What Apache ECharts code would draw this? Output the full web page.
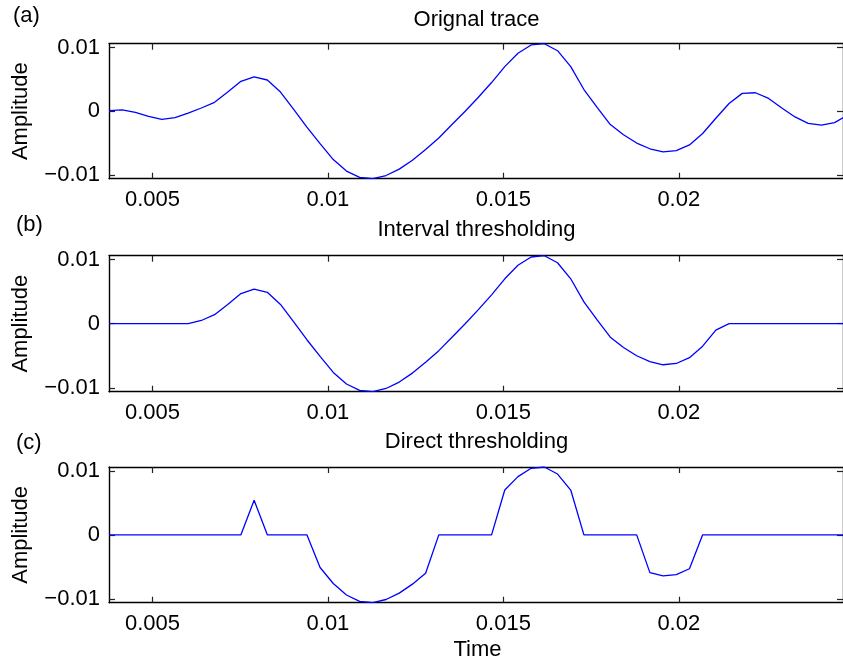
<!DOCTYPE html>
<html><head><meta charset="utf-8">
<script src="https://cdn.jsdelivr.net/npm/echarts@6/dist/echarts.min.js"></script>
<style>html,body{margin:0;padding:0;background:#fff}#c{width:843px;height:664px}</style>
</head><body><div id="c"></div><script>
// ---- data ----
const time = [0.00376,0.004136,0.004512,0.004888,0.005264,0.00564,0.006016,0.006392,0.006768,0.007144,
  0.00752,0.007896,0.008272,0.008648,0.009024,0.0094,0.009776,0.010152,0.010528,0.010904,
  0.01128,0.011656,0.012032,0.012408,0.012784,0.01316,0.013536,0.013912,0.014288,0.014664,
  0.01504,0.015416,0.015792,0.016168,0.016544,0.01692,0.017296,0.017672,0.018048,0.018424,
  0.0188,0.019176,0.019552,0.019928,0.020304,0.02068,0.021056,0.021432,0.021808,0.022184,
  0.02256,0.022936,0.023312,0.023688,0.024064,0.02444,0.024816];
const originalTrace = [0.0001,0.0002,-0.0002,-0.0008,-0.0013,-0.0010,-0.0003,0.0005,0.0014,0.0030,
  0.0047,0.0054,0.0049,0.0030,0.0003,-0.0025,-0.0051,-0.0076,-0.0094,-0.0104,
  -0.0106,-0.0101,-0.0091,-0.0077,-0.0060,-0.0042,-0.0021,0.0000,0.0022,0.0045,
  0.0070,0.0091,0.0104,0.0106,0.0095,0.0070,0.0034,0.0006,-0.0021,-0.0037,
  -0.0050,-0.0059,-0.0064,-0.0062,-0.0053,-0.0035,-0.0011,0.0012,0.0028,0.0029,
  0.0020,0.0005,-0.0009,-0.0019,-0.0022,-0.0018,-0.0006];
const intervalThresholding = [0,0,0,0,0,0,0,0.0005,0.0014,0.0030,
  0.0047,0.0054,0.0049,0.0030,0.0003,-0.0025,-0.0051,-0.0076,-0.0094,-0.0104,
  -0.0106,-0.0101,-0.0091,-0.0077,-0.0060,-0.0042,-0.0021,0.0000,0.0022,0.0045,
  0.0070,0.0091,0.0104,0.0106,0.0095,0.0070,0.0034,0.0006,-0.0021,-0.0037,
  -0.0050,-0.0059,-0.0064,-0.0062,-0.0053,-0.0035,-0.0010,0,0,0,
  0,0,0,0,0,0,0];
const directThresholding = [0,0,0,0,0,0,0,0,0,0,
  0,0.0054,0,0,0,0,-0.0051,-0.0076,-0.0094,-0.0104,
  -0.0106,-0.0101,-0.0091,-0.0077,-0.0060,0,0,0,0,0,
  0.0070,0.0091,0.0104,0.0106,0.0095,0.0070,0,0,0,0,
  0,-0.0059,-0.0064,-0.0062,-0.0053,0,0,0,0,0,
  0,0,0,0,0,0,0];
const xTicks = [0.005,0.01,0.015,0.02];
const xTickLabels = ['0.005','0.01','0.015','0.02'];
const yTicks = [-0.01,0,0.01];
const yTickLabels = ['\u22120.01','0','0.01'];
const panelTitles = ['Orignal trace','Interval thresholding','Direct thresholding'];
const panelLetters = ['(a)','(b)','(c)'];
const yAxisName = 'Amplitude';
const xAxisName = 'Time';
const panelSeries = [originalTrace, intervalThresholding, directThresholding];

// ---- layout ----
const FONT = "'Liberation Sans', Arial, sans-serif";
const FS = 22;
const X_MIN = 0.00376, X_MAX = 0.02468, Y_MIN = -0.0106, Y_MAX = 0.0106;
const grids = [
  {left:109, top:43.7, width:735, height:135},
  {left:109, top:255.7, width:735, height:136},
  {left:109, top:467, width:735, height:135.7}
];
const titleY = [19.5, 229.5, 442];
const letterPos = [[13,16],[16,225],[16,443]];

function lab(vals, labels){
  return v => { const i = vals.findIndex(t => Math.abs(t - v) < 1e-9); return i >= 0 ? labels[i] : ''; };
}
const axisLine = {show:true, onZero:false, lineStyle:{color:'#000', width:1.4}};
const tickStyle = {color:'#222', width:1.2};
const xAxes = [], yAxes = [], series = [], graphics = [];
grids.forEach((g, i) => {
  xAxes.push({type:'value', gridIndex:i, position:'bottom', min:X_MIN, max:X_MAX,
    axisLine, splitLine:{show:false},
    axisTick:{show:true, inside:true, length:6, customValues:xTicks, lineStyle:tickStyle},
    axisLabel:{show:true, customValues:xTicks, formatter:lab(xTicks,xTickLabels), margin:10,
      fontFamily:FONT, fontSize:FS, color:'#000'}});
  xAxes.push({type:'value', gridIndex:i, position:'top', min:X_MIN, max:X_MAX,
    axisLine, splitLine:{show:false},
    axisTick:{show:true, inside:true, length:6, customValues:xTicks, lineStyle:tickStyle},
    axisLabel:{show:false}});
  yAxes.push({type:'value', gridIndex:i, position:'left', min:Y_MIN, max:Y_MAX,
    axisLine, splitLine:{show:false},
    axisTick:{show:true, inside:true, length:6, customValues:yTicks, lineStyle:tickStyle},
    axisLabel:{show:true, customValues:yTicks, formatter:lab(yTicks,yTickLabels), margin:9,
      fontFamily:FONT, fontSize:FS, color:'#000'}});
  yAxes.push({type:'value', gridIndex:i, position:'right', min:Y_MIN, max:Y_MAX,
    axisLine, splitLine:{show:false},
    axisTick:{show:true, inside:true, length:6, customValues:yTicks, lineStyle:tickStyle},
    axisLabel:{show:false}});
  series.push({type:'line', xAxisIndex:2*i, yAxisIndex:2*i,
    data: time.map((t, k) => [t, panelSeries[i][k]]),
    showSymbol:false, symbol:'none', clip:true,
    lineStyle:{color:'#0000ff', width:1.3}});
  graphics.push({type:'text', x:g.left + g.width/2, y:titleY[i],
    style:{text:panelTitles[i], fontFamily:FONT, fontSize:FS, fill:'#000', align:'center', verticalAlign:'middle'}});
  graphics.push({type:'text', x:letterPos[i][0], y:letterPos[i][1],
    style:{text:panelLetters[i], fontFamily:FONT, fontSize:FS, fill:'#000', align:'left', verticalAlign:'middle'}});
  graphics.push({type:'text', x:21, y:g.top + g.height/2, rotation:Math.PI/2,
    style:{text:yAxisName, fontFamily:FONT, fontSize:FS, fill:'#000', align:'center', verticalAlign:'middle'}});
});
graphics.push({type:'text', x:477.5, y:650,
  style:{text:xAxisName, fontFamily:FONT, fontSize:FS, fill:'#000', align:'center', verticalAlign:'middle'}});

const chart = echarts.init(document.getElementById('c'), null, {renderer:'canvas'});
chart.setOption({
  animation:false, backgroundColor:'#fff',
  grid: grids.map(g => Object.assign({containLabel:false}, g)),
  xAxis:xAxes, yAxis:yAxes, series, graphic:graphics
});
</script></body></html>
